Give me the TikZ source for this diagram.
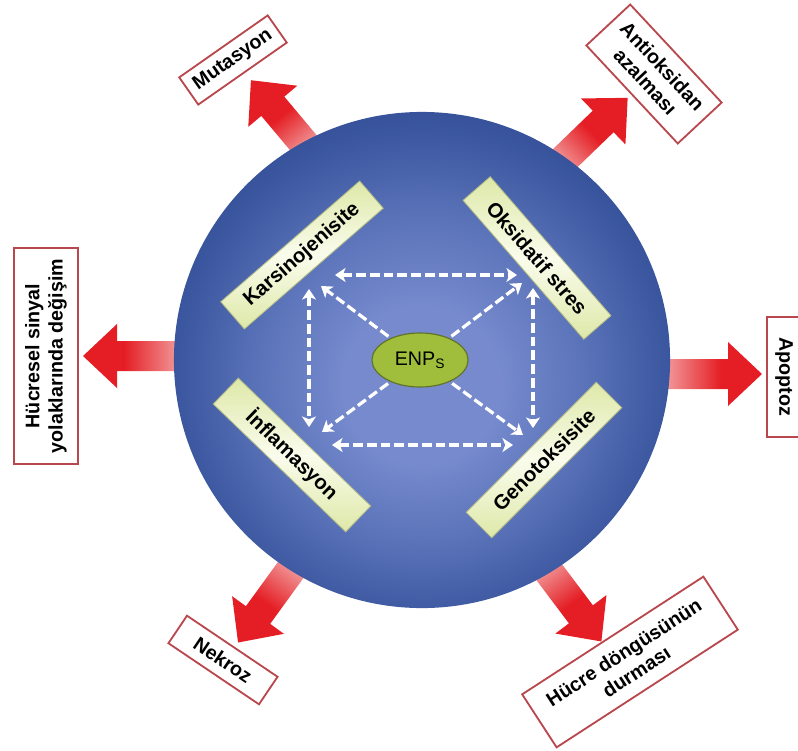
\documentclass[tikz,border=0pt]{standalone}
\usepackage{fontspec}
\setmainfont{Liberation Sans}
\usetikzlibrary{arrows.meta,shapes.geometric}

\definecolor{arrowred}{RGB}{228,30,36}
\definecolor{arrowpink}{RGB}{244,180,180}
\definecolor{boxred}{RGB}{185,72,78}
\definecolor{globea}{RGB}{118,138,205}
\definecolor{globeb}{RGB}{92,116,186}
\definecolor{globec}{RGB}{58,86,158}
\definecolor{globed}{RGB}{38,62,132}
\definecolor{globee}{RGB}{26,48,112}
\definecolor{boxlight}{RGB}{250,252,236}
\definecolor{boxgreen}{RGB}{222,232,168}
\definecolor{enpgreen}{RGB}{160,190,60}
\definecolor{enpborder}{RGB}{95,115,35}

\pgfdeclarehorizontalshading{redfade}{100bp}{color(0bp)=(arrowpink); color(22bp)=(arrowpink); color(55bp)=(arrowred); color(100bp)=(arrowred)}
\pgfdeclareradialshading{globefade}{\pgfpoint{0bp}{-3bp}}{color(0bp)=(globea); color(8bp)=(globea); color(16bp)=(globeb); color(25bp)=(globec); color(35bp)=(globed); color(47bp)=(globee); color(50bp)=(globee)}

\begin{document}
\begin{tikzpicture}[x=0.025cm,y=-0.025cm,>={Stealth[length=7.5pt,width=10pt,inset=2pt]},
    outbox/.style={draw=boxred,line width=1.3pt,fill=white,align=center,inner sep=1pt,font=\fontsize{14}{16.5}\selectfont\bfseries},
    inbox/.style={draw=boxgreen!80!black,line width=.6pt,top color=boxgreen,bottom color=boxgreen,middle color=boxlight,minimum width=4.6cm,minimum height=0.9cm,inner sep=1pt,font=\fontsize{14.5}{16}\selectfont\bfseries},
    dasharrow/.style={white,line width=2.3pt,dash pattern=on 7pt off 2.8pt}]
    \useasboundingbox (0,0) rectangle (798,751);%
    % red arrows, under the globe
    \foreach \x/\y/\a/\l in {185/356/180/102, 660/374/0/102, 312/153/130/95, 555/168/44/101, 298/560/234/102, 540/560/-53/102} {%
      \begin{scope}[shift={(\x,\y)},rotate=\a]
        \shade[shading=redfade,shading angle=\a] (0,-15) -- (\l-34,-15) -- (\l-34,-32) -- (\l,0) -- (\l-34,32) -- (\l-34,15) -- (0,15) -- cycle;%
      \end{scope}
    };%
    \node[circle,shade,shading=globefade,minimum size=12.4cm,inner sep=0pt] (globe) at (422,360) {};%
    \node[ellipse,draw=enpborder,line width=.8pt,fill=enpgreen,minimum width=2.4cm,minimum height=1.35cm,inner sep=0pt,font=\fontsize{14}{14}\selectfont] (enp) at (420,360) {ENP\textsubscript{S}};%
    \foreach \n/\x/\y/\a/\t in {kars/302/255/41/Karsinojenisite, oks/537/258/-49/Oksidatif stres, infl/292/455/-44/İnflamasyon, geno/544/460/45/Genotoksisite} {%
      \node[inbox,rotate=\a] (\n) at (\x,\y) {\t};%
    };%
    % dashed links
    \foreach \n/\x/\y in {th1/335/275, th2/517/275, bh1/332/445, bh2/513/445, lv1/309/289, lv2/309/427, rv1/533/288, rv2/533/428, dtl/321/286, dtr/522/283, dbl/322/432, dbr/523/435} {%
      \coordinate (\n) at (\x,\y);%
    };%
    \draw[dasharrow,<->] (th1) -- (th2);%
    \draw[dasharrow,<->] (bh1) -- (bh2);%
    \draw[dasharrow,<->] (lv1) -- (lv2);%
    \draw[dasharrow,<->] (rv1) -- (rv2);%
    \foreach \c in {dtl,dtr,dbl,dbr} {%
      \draw[dasharrow,->,shorten <=2pt] (enp) -- (\c);%
    };%
    % outcomes
    \node[outbox,rotate=35,minimum width=2.7cm,minimum height=0.83cm] (mut) at (233,60) {Mutasyon};%
    \node[outbox,rotate=-47,minimum width=3.35cm,minimum height=1.5cm] (anti) at (654,74) {Antioksidan\\azalması};%
    \node[outbox,rotate=90,minimum width=5.4cm,minimum height=1.62cm] (sinyal) at (46,356) {Hücresel sinyal\\yolaklarında değişim};%
    \node[outbox,rotate=-90,minimum width=2.98cm,minimum height=0.85cm] (apo) at (784,377) {Apoptoz};%
    \node[outbox,rotate=-34,minimum width=2.73cm,minimum height=0.83cm] (nek) at (223,660) {Nekroz};%
    \node[outbox,rotate=33,minimum width=5.4cm,minimum height=1.58cm] (dongu) at (630,662) {Hücre döngüsünün\\durması};%
  \end{tikzpicture}
\end{document}
